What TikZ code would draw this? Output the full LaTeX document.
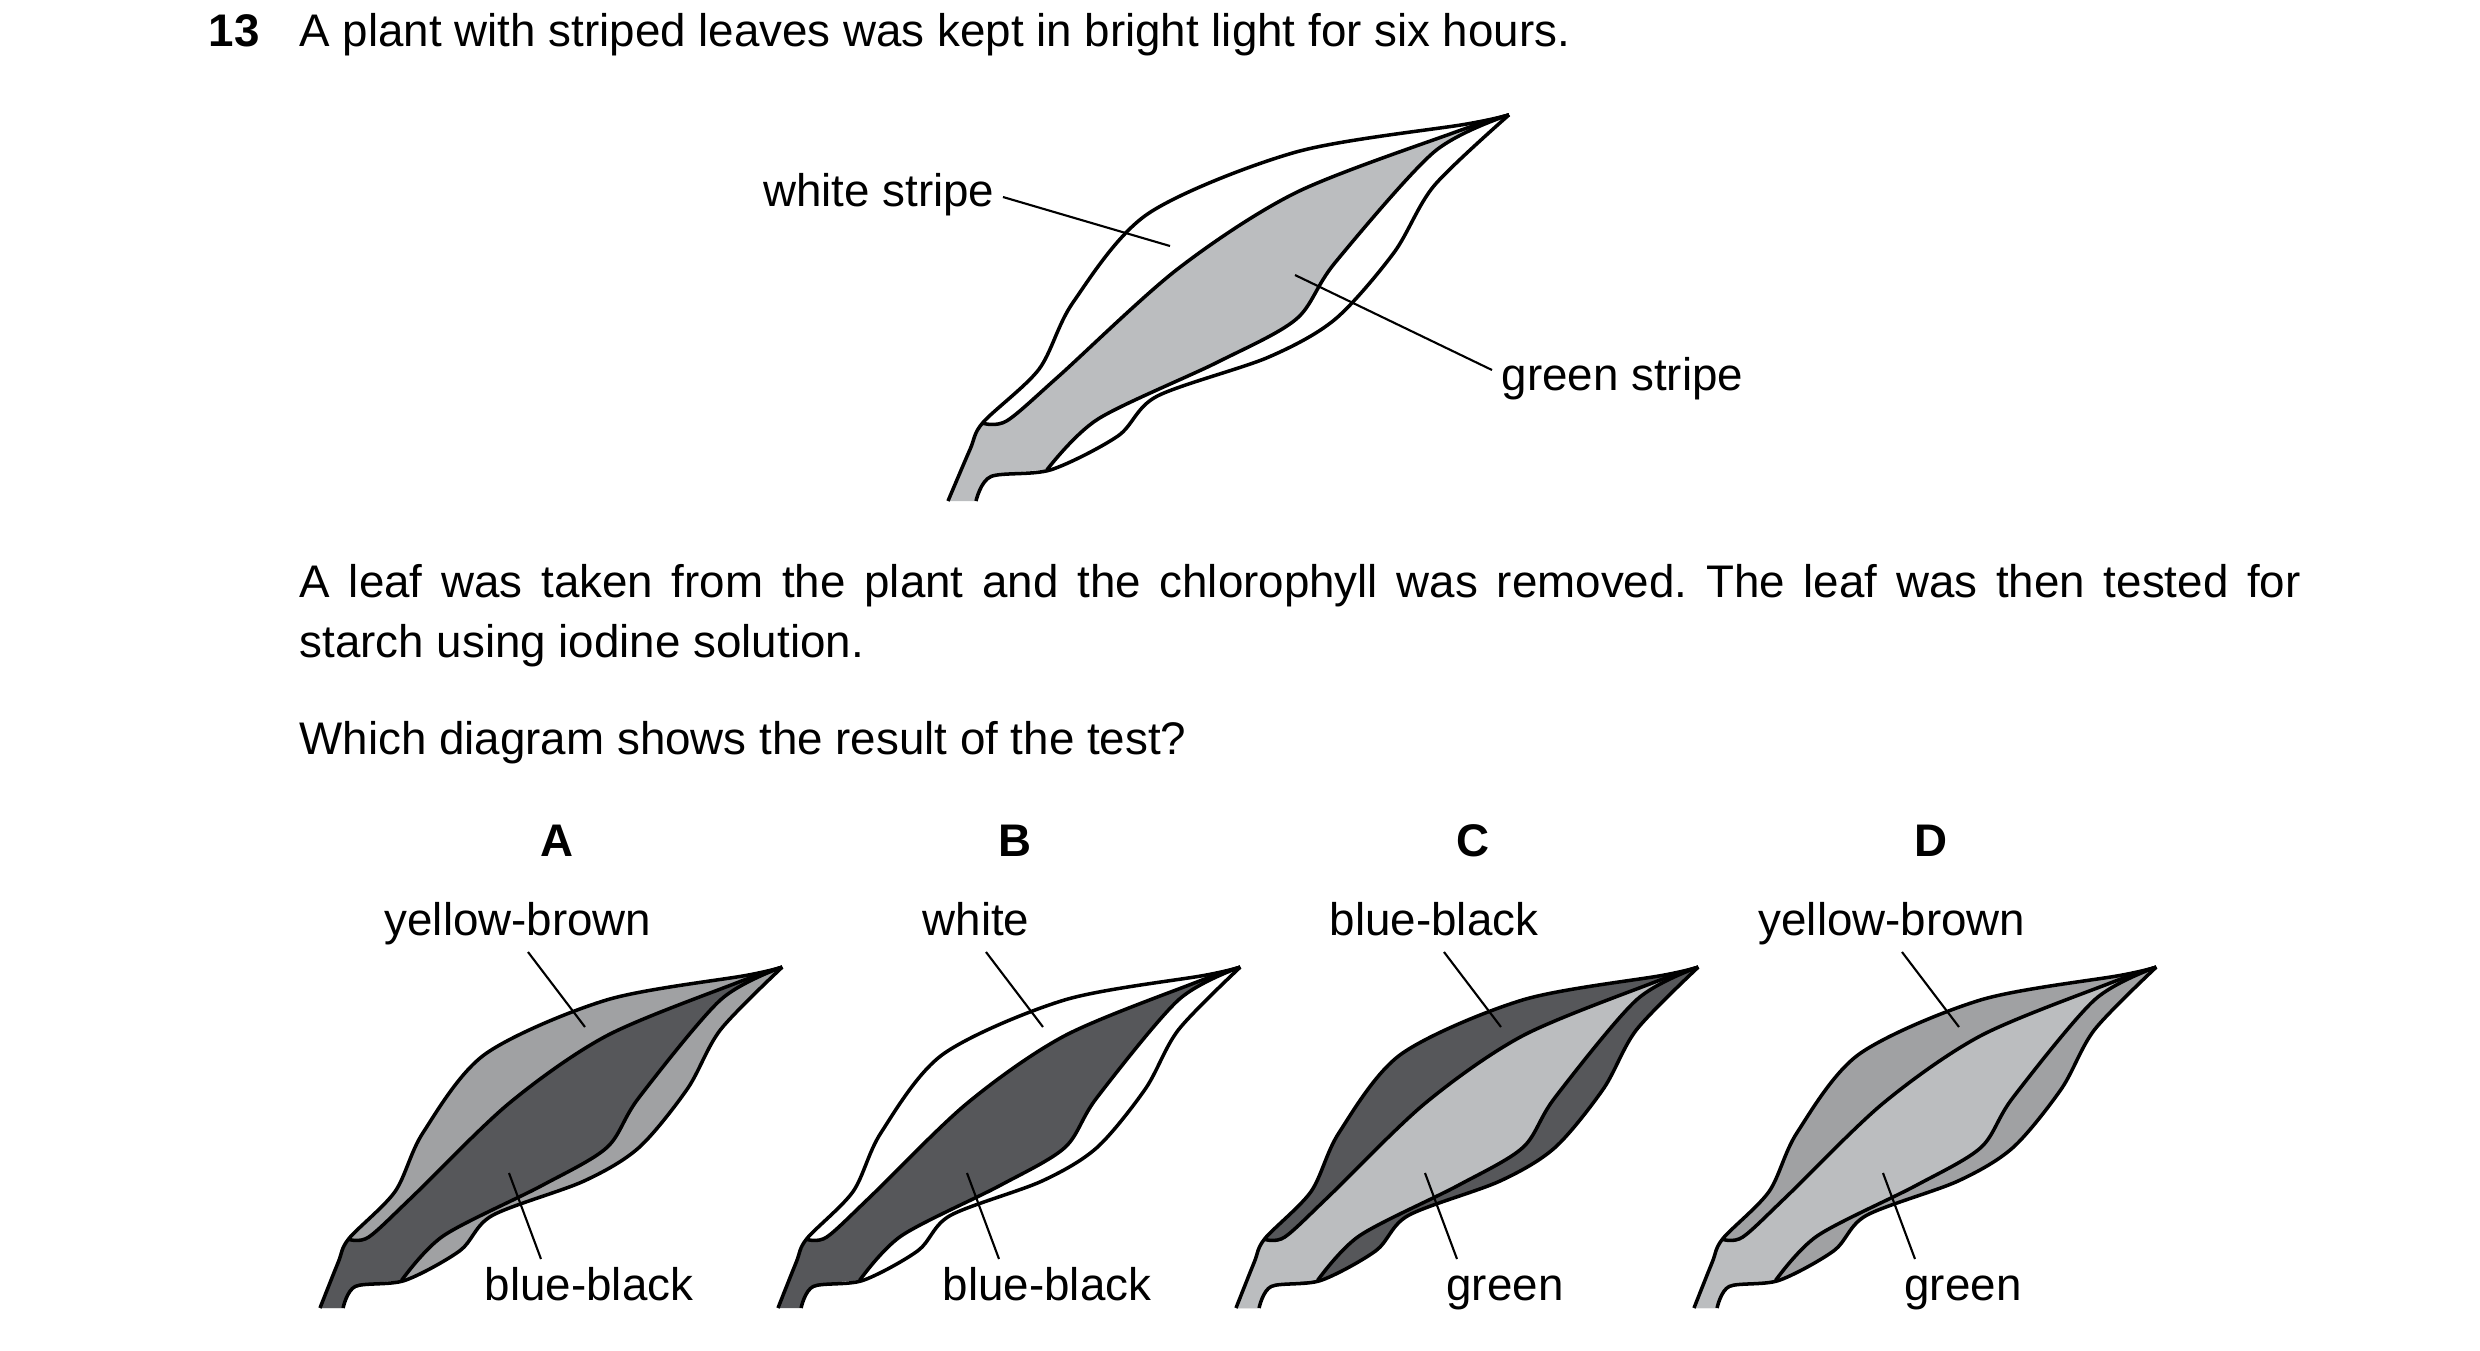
\documentclass[tikz,border=0pt]{standalone}
\usepackage{fontspec}
\setmainfont{Liberation Sans}
\usepackage{tikz}

\definecolor{lightleaf}{HTML}{BBBDBF}
\definecolor{midleaf}{HTML}{A0A1A3}
\definecolor{darkleaf}{HTML}{56575A}

% one leaf: origin x, origin y, xscale, yscale, outer colour, inner colour
\newcommand{\stripeleaf}[6]{%
  \begin{scope}[shift={(#1,#2)},xscale=#3,yscale=-#4]
    \fill[#5] plot[smooth] coordinates {(0,0) (22,61) (35,93) (91,156) (125,235) (200,340) (348,413) (518,446) (561,457)}
      -- plot[smooth] coordinates {(561,457) (486,373) (446,294) (387,215) (320,170) (209,124) (170,77) (103,37) (43,29) (28,0)} -- cycle;
    \fill[#6] plot[smooth] coordinates {(35,92) (59,95) (111,148) (229,274) (348,365) (506,436) (561,457)}
      -- plot[smooth] coordinates {(561,457) (486,413) (387,282) (348,215) (269,164) (150,97) (99,37)}
      -- plot[smooth] coordinates {(99,37) (43,29) (28,0)} -- (0,0)
      -- plot[smooth] coordinates {(0,0) (22,61) (35,92)} -- cycle;
    \draw[leaf] plot[smooth] coordinates {(0,0) (22,61) (35,93) (91,156) (125,235) (200,340) (348,413) (518,446) (561,457)};
    \draw[leaf] plot[smooth] coordinates {(561,457) (486,373) (446,294) (387,215) (320,170) (209,124) (170,77) (103,37) (43,29) (28,0)};
    \draw[leaf] plot[smooth] coordinates {(35,92) (59,95) (111,148) (229,274) (348,365) (506,436) (561,457)};
    \draw[leaf] plot[smooth] coordinates {(561,457) (486,413) (387,282) (348,215) (269,164) (150,97) (99,37)};
  \end{scope}}

\begin{document}
\frenchspacing
\begin{tikzpicture}[x=0.01cm,y=-0.01cm,
  leaf/.style={line width=1pt,line join=round},
  pointer/.style={line width=0.6pt},
  txt/.style={font=\fontsize{13}{17}\selectfont,inner sep=0pt},
  choice/.style={txt,font=\fontsize{13}{17}\selectfont\bfseries,anchor=base}]

  \useasboundingbox (0,0) rectangle (2480,1350);

  % question
  \node[txt,anchor=base west,font=\fontsize{13}{17}\selectfont\bfseries] (num) at (208,46) {13};
  \node[txt,anchor=base west] (stem) at (299,46) {A plant with striped leaves was kept in bright light for six hours.};

  % striped leaf
  \stripeleaf{948}{501}{1}{0.845}{white}{lightleaf}
  \node[txt,anchor=base east] (white) at (995,206) {white stripe};
  \draw[pointer] (1003,197) coordinate (whitestart) -- (1170,246) coordinate (whiteend);
  \node[txt,anchor=base west] (green) at (1501,390) {green stripe};
  \draw[pointer] (1492,370) coordinate (greenstart) -- (1295,275) coordinate (greenend);

  \node[txt,anchor=north west,text width=20cm,align=justify] (para) at (299,555)
    {\strut A leaf was taken from the plant and the chlorophyll was removed. The leaf was then tested for\linebreak starch using iodine solution.};
  \node[txt,anchor=base west] (ask) at (299,754) {Which diagram shows the result of the test?};

  % answer leaves
  \foreach \x/\l/\up/\down/\outer/\inner [count=\i] in
      {320/A/yellow-brown/blue-black/midleaf/darkleaf,
       778/B/white/blue-black/white/darkleaf,
       1236/C/blue-black/green/darkleaf/lightleaf,
       1694/D/yellow-brown/green/midleaf/lightleaf}{
    \stripeleaf{\x}{1308}{0.824}{0.746}{\outer}{\inner}
    \node[choice] (key\i) at (\x+237,856) {\l};
    \node[txt,anchor=base] (top\i) at (\x+198,935) {\up};
    \node[txt,anchor=base] (bot\i) at (\x+269,1300) {\down};
    \draw[pointer] (\x+208,952) -- (\x+265,1027);
    \draw[pointer] (\x+189,1173) -- (\x+221,1259);
  }

\end{tikzpicture}
\end{document}
